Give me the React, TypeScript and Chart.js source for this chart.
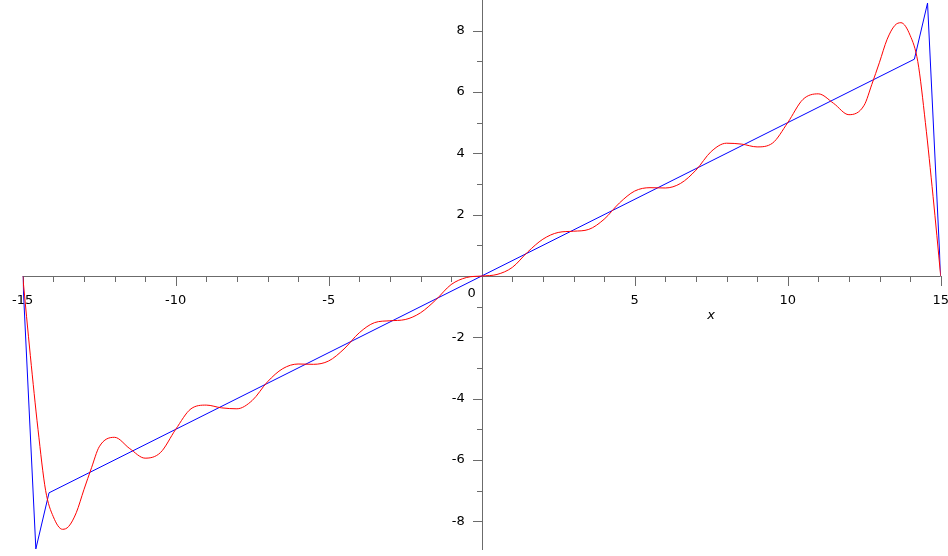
import React, { useEffect, useRef } from "react";
import { Chart, registerables } from "chart.js";

Chart.register(...registerables);

// Red curve
const redX = [
  -15, -14.75, -14.5, -14.25, -14, -13.7, -13.5, -13.25, -13, -12.75, -12.5, -12, -11.5, -11, -10.5, -10,
  -9.5, -9, -8.5, -8, -7.5, -7, -6.5, -6, -5.5, -5, -4.5, -4, -3.5, -3, -2.5, -2, -1.5, -1, -0.5,
  0,
  0.5, 1, 1.5, 2, 2.5, 3, 3.5, 4, 4.5, 5, 5.5, 6, 6.5, 7, 7.5, 8, 8.5, 9, 9.5,
  10, 10.5, 11, 11.5, 12, 12.5, 12.75, 13, 13.25, 13.5, 13.7, 14, 14.25, 14.5, 14.75, 15,
];
const redY = [
  0, -2.6, -5.0, -7.0, -7.85, -8.26, -8.17, -7.72, -6.97, -6.25, -5.57, -5.26, -5.63, -5.94, -5.76, -5.0,
  -4.33, -4.21, -4.3, -4.33, -4.06, -3.45, -3.02, -2.87, -2.88, -2.77, -2.38, -1.85, -1.52, -1.46, -1.42, -1.2, -0.78, -0.28, -0.05,
  0,
  0.05, 0.28, 0.78, 1.2, 1.42, 1.46, 1.52, 1.85, 2.38, 2.77, 2.88, 2.87, 3.02, 3.45, 4.06, 4.33, 4.3, 4.21, 4.33,
  5.0, 5.76, 5.94, 5.63, 5.26, 5.57, 6.25, 6.97, 7.72, 8.17, 8.26, 7.85, 7.0, 5.0, 2.6, 0,
];

// Blue polyline
const blueX = [-15, -14.57, -14.14, 14.14, 14.57, 15];
const blueY = [0, -8.9, -7.07, 7.07, 8.9, 0];

// Axis ticks and labels
const xTicks = [-15, -14, -13, -12, -11, -10, -9, -8, -7, -6, -5, -4, -3, -2, -1, 0, 1, 2, 3, 4, 5, 6, 7, 8, 9, 10, 11, 12, 13, 14, 15];
const xLabels = [-15, -10, -5, 5, 10, 15];
const yTicks = [-8, -7, -6, -5, -4, -3, -2, -1, 1, 2, 3, 4, 5, 6, 7, 8];
const yLabels = [-8, -6, -4, -2, 2, 4, 6, 8];
const originLabel = "0";
const xAxisTitle = "x";
const xAxisTitleAt = 7.5;

const axisPlugin = {
  id: "mapleAxes",
  beforeDatasetsDraw(chart: any) {
    const ctx = chart.ctx;
    const xs = chart.scales.x;
    const ys = chart.scales.y;
    const x0 = xs.getPixelForValue(0);
    const y0 = ys.getPixelForValue(0);
    ctx.save();
    ctx.strokeStyle = "#6b6b6b";
    ctx.lineWidth = 1;
    ctx.beginPath();
    ctx.moveTo(xs.getPixelForValue(-15), Math.round(y0) + 0.5);
    ctx.lineTo(xs.getPixelForValue(15), Math.round(y0) + 0.5);
    ctx.moveTo(Math.round(x0) + 0.5, chart.chartArea.top);
    ctx.lineTo(Math.round(x0) + 0.5, chart.chartArea.bottom - 2);
    xTicks.forEach((v) => {
      const px = Math.round(xs.getPixelForValue(v)) + 0.5;
      const len = v % 5 === 0 ? 10 : 6;
      ctx.moveTo(px, Math.round(y0));
      ctx.lineTo(px, Math.round(y0) + len);
    });
    yTicks.forEach((v) => {
      const py = Math.round(ys.getPixelForValue(v)) + 0.5;
      const len = v % 2 === 0 ? 10 : 6;
      ctx.moveTo(Math.round(x0) + 1, py);
      ctx.lineTo(Math.round(x0) + 1 - len, py);
    });
    ctx.stroke();

    ctx.fillStyle = "#000";
    ctx.font = "13px 'DejaVu Sans', sans-serif";
    ctx.textBaseline = "middle";
    ctx.textAlign = "center";
    xLabels.forEach((v) => {
      ctx.fillText(String(v), xs.getPixelForValue(v), y0 + 25);
    });
    ctx.fillText(originLabel, x0 - 10, y0 + 18);
    ctx.textAlign = "right";
    yLabels.forEach((v) => {
      ctx.fillText(String(v), x0 - 17, ys.getPixelForValue(v));
    });
    ctx.textAlign = "center";
    ctx.font = "italic 13px 'DejaVu Sans', sans-serif";
    ctx.fillText(xAxisTitle, xs.getPixelForValue(xAxisTitleAt), y0 + 40);
    ctx.restore();
  },
};

export default function App() {
  const ref = useRef<HTMLCanvasElement | null>(null);
  useEffect(() => {
    if (!ref.current) return;
    const chart = new Chart(ref.current, {
      type: "scatter",
      data: {
        datasets: [
          {
            data: redX.map((x, i) => ({ x, y: redY[i] })),
            borderColor: "#ff0000",
            borderWidth: 1,
            showLine: true,
            pointRadius: 0,
            cubicInterpolationMode: "monotone",
          },
          {
            data: blueX.map((x, i) => ({ x, y: blueY[i] })),
            borderColor: "#0000ff",
            borderWidth: 1,
            showLine: true,
            pointRadius: 0,
            tension: 0,
          },
        ],
      },
      options: {
        animation: false,
        responsive: false,
        layout: { padding: { left: 22.7, right: 7.3, top: 0, bottom: 4 } },
        plugins: { legend: { display: false }, tooltip: { enabled: false } },
        scales: {
          x: { type: "linear", min: -15, max: 15, display: false },
          y: { type: "linear", min: -9, max: 9, display: false },
        },
        elements: { line: { fill: false } },
      } as any,
      plugins: [axisPlugin],
    });
    return () => chart.destroy();
  }, []);
  return (
    <div style={{ position: "absolute", left: 0, top: 0, width: 948, height: 556, background: "#fff" }}>
      <canvas ref={ref} width={948} height={556} style={{ display: "block" }} />
    </div>
  );
}
